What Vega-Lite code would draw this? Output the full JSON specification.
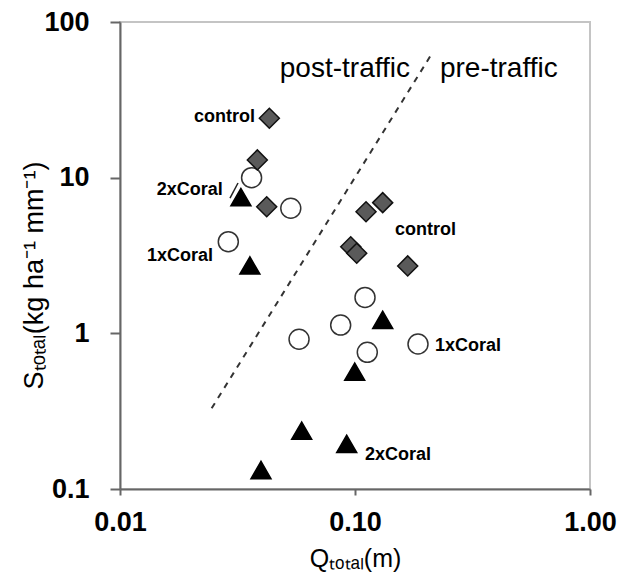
{
  "$schema": "https://vega.github.io/schema/vega-lite/v6.json",
  "width": 470,
  "height": 467,
  "autosize": {"type": "none"},
  "padding": {"left": 120, "top": 22, "right": 34, "bottom": 86},
  "background": "white",
  "config": {"view": {"stroke": "#c4c4c4", "strokeWidth": 2}, "font": "Liberation Sans"},
  "datasets": {
    "points": [
      {"q": 0.0363, "s": 10.0, "g": "1xCoral"},
      {"q": 0.0533, "s": 6.36, "g": "1xCoral"},
      {"q": 0.0289, "s": 3.88, "g": "1xCoral"},
      {"q": 0.1103, "s": 1.70, "g": "1xCoral"},
      {"q": 0.0869, "s": 1.13, "g": "1xCoral"},
      {"q": 0.0578, "s": 0.916, "g": "1xCoral"},
      {"q": 0.1128, "s": 0.755, "g": "1xCoral"},
      {"q": 0.1854, "s": 0.854, "g": "1xCoral"},
      {"q": 0.0327, "s": 7.5, "g": "2xCoral"},
      {"q": 0.0357, "s": 2.73, "g": "2xCoral"},
      {"q": 0.1312, "s": 1.22, "g": "2xCoral"},
      {"q": 0.0997, "s": 0.567, "g": "2xCoral"},
      {"q": 0.0593, "s": 0.237, "g": "2xCoral"},
      {"q": 0.0922, "s": 0.195, "g": "2xCoral"},
      {"q": 0.0398, "s": 0.1325, "g": "2xCoral"},
      {"q": 0.0432, "s": 24.1, "g": "control"},
      {"q": 0.0384, "s": 13.0, "g": "control"},
      {"q": 0.0421, "s": 6.51, "g": "control"},
      {"q": 0.1312, "s": 6.91, "g": "control"},
      {"q": 0.1114, "s": 6.04, "g": "control"},
      {"q": 0.0959, "s": 3.60, "g": "control"},
      {"q": 0.1017, "s": 3.27, "g": "control"},
      {"q": 0.1676, "s": 2.71, "g": "control"}
    ],
    "divider": [{"q": 0.02455, "s": 0.33, "q2": 0.2148, "s2": 64.4}],
    "leader": [{"q": 0.02938, "s": 7.40, "q2": 0.03178, "s2": 9.24}],
    "labelsLeftSide": [
      {"q": 0.0375, "s": 24.5, "label": "control"},
      {"q": 0.0274, "s": 8.33, "label": "2xCoral"},
      {"q": 0.0249, "s": 3.15, "label": "1xCoral"}
    ],
    "labelsRightSide": [
      {"q": 0.148, "s": 4.61, "label": "control"},
      {"q": 0.219, "s": 0.833, "label": "1xCoral"},
      {"q": 0.1103, "s": 0.1654, "label": "2xCoral"}
    ],
    "regionLeft": [{"q": 0.1714, "s": 44.3, "label": "post-traffic"}],
    "regionRight": [{"q": 0.2299, "s": 44.3, "label": "pre-traffic"}]
  },
  "encoding": {
    "x": {
      "field": "q", "type": "quantitative",
      "scale": {"type": "log", "domain": [0.01, 1], "nice": false},
      "axis": {
        "title": "Qₜₒₜₐₗ(m)", "values": [0.01, 0.1, 1], "format": ".2f", "grid": false,
        "tickSize": 6, "tickWidth": 2, "tickColor": "#666", "domainColor": "#666", "domainWidth": 2,
        "labelFont": "Liberation Sans", "labelFontSize": 27, "labelFontWeight": "bold", "labelColor": "#000",
        "labelPadding": 14, "labelFlush": false, "labelOverlap": false,
        "titleFont": "Liberation Sans", "titleFontSize": 25, "titleFontWeight": "normal", "titleColor": "#000",
        "titleX": 235, "titleY": 77, "titleBaseline": "alphabetic", "titleAlign": "center"
      }
    },
    "y": {
      "field": "s", "type": "quantitative",
      "scale": {"type": "log", "domain": [0.1, 100], "nice": false},
      "axis": {
        "title": "Sₜₒₜₐₗ(kg ha⁻¹ mm⁻¹)", "values": [0.1, 1, 10, 100], "format": "~g", "grid": false,
        "tickSize": 10, "tickWidth": 2, "tickColor": "#666", "domainColor": "#666", "domainWidth": 2,
        "labelFont": "Liberation Sans", "labelFontSize": 27, "labelFontWeight": "bold", "labelColor": "#000",
        "labelPadding": 21, "labelFlush": false, "labelOverlap": false,
        "titleFont": "Liberation Sans", "titleFontSize": 27, "titleFontWeight": "normal", "titleColor": "#000",
        "titleAngle": -90, "titleX": -78, "titleY": 253, "titleBaseline": "alphabetic", "titleAlign": "center"
      }
    }
  },
  "layer": [
    {
      "data": {"name": "divider"},
      "mark": {"type": "rule", "strokeDash": [6, 6], "strokeWidth": 2, "color": "#333"},
      "encoding": {"x2": {"field": "q2"}, "y2": {"field": "s2"}}
    },
    {
      "data": {"name": "leader"},
      "mark": {"type": "rule", "strokeWidth": 1.5, "color": "#222"},
      "encoding": {"x2": {"field": "q2"}, "y2": {"field": "s2"}}
    },
    {
      "data": {"name": "points"},
      "mark": {"type": "point", "filled": true, "size": 400, "strokeWidth": 1.5, "opacity": 1},
      "encoding": {
        "shape": {"field": "g", "type": "nominal", "legend": null,
          "scale": {"domain": ["control", "1xCoral", "2xCoral"], "range": ["diamond", "circle", "triangle-up"]}},
        "fill": {"field": "g", "type": "nominal", "legend": null,
          "scale": {"domain": ["control", "1xCoral", "2xCoral"], "range": ["#5a5a5a", "#ffffff", "#000000"]}},
        "stroke": {"field": "g", "type": "nominal", "legend": null,
          "scale": {"domain": ["control", "1xCoral", "2xCoral"], "range": ["#111111", "#333333", "#000000"]}}
      }
    },
    {
      "data": {"name": "labelsLeftSide"},
      "mark": {"type": "text", "align": "right", "baseline": "middle", "fontSize": 18, "fontWeight": "bold", "color": "#000", "font": "Liberation Sans"},
      "encoding": {"text": {"field": "label"}}
    },
    {
      "data": {"name": "labelsRightSide"},
      "mark": {"type": "text", "align": "left", "baseline": "middle", "fontSize": 18, "fontWeight": "bold", "color": "#000", "font": "Liberation Sans"},
      "encoding": {"text": {"field": "label"}}
    },
    {
      "data": {"name": "regionLeft"},
      "mark": {"type": "text", "align": "right", "baseline": "alphabetic", "fontSize": 28, "color": "#000", "font": "Liberation Sans"},
      "encoding": {"text": {"field": "label"}}
    },
    {
      "data": {"name": "regionRight"},
      "mark": {"type": "text", "align": "left", "baseline": "alphabetic", "fontSize": 28, "color": "#000", "font": "Liberation Sans"},
      "encoding": {"text": {"field": "label"}}
    }
  ]
}
